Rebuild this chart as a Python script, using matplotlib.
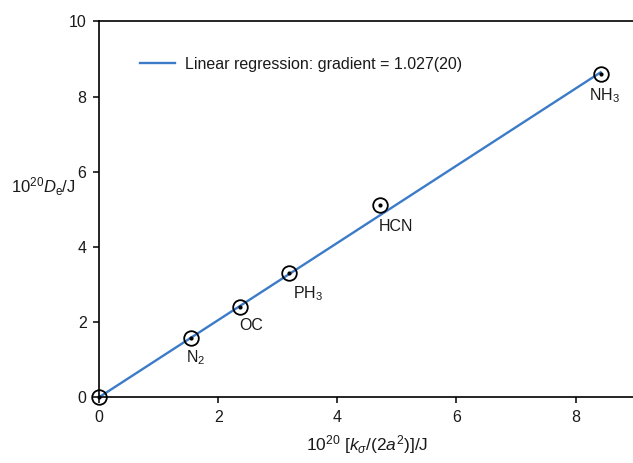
import matplotlib
matplotlib.use("Agg")
import matplotlib.pyplot as plt
import numpy as np

plt.rcParams['font.family'] = ['Liberation Sans', 'DejaVu Sans']
plt.rcParams['mathtext.fontset'] = 'custom'
plt.rcParams['mathtext.rm'] = 'Liberation Sans'
plt.rcParams['mathtext.it'] = 'Liberation Sans:italic'

# data
names = ['', 'N$_2$', 'OC', 'PH$_3$', 'HCN', 'NH$_3$']
x_vals = [0.0, 1.54, 2.37, 3.19, 4.71, 8.42]
y_vals = [0.0, 1.58, 2.41, 3.31, 5.12, 8.61]
gradient = 1.027
label_offsets = [(0, 0), (5, -20), (11, -19), (19, -21), (16, -22), (4, -22)]
x_ticks = [0, 2, 4, 6, 8]
y_ticks = [0, 2, 4, 6, 8, 10]

fig = plt.figure(figsize=(6.33, 4.63), dpi=100)
ax = fig.add_axes([0.1564, 0.1419, 0.847, 0.8117])

xl = np.array([0, max(x_vals)])
ax.plot(xl, gradient * xl, color='#3b7bc8', lw=1.7,
        label='Linear regression: gradient = 1.027(20)', zorder=2)
ax.plot(x_vals, y_vals, 'o', ms=10.5, mfc='none', mec='black', mew=1.3,
        zorder=3, clip_on=False)
ax.plot(x_vals, y_vals, 'o', ms=2, color='black', zorder=4, clip_on=False)

for n, x, y, off in zip(names, x_vals, y_vals, label_offsets):
    if n:
        ax.annotate(n, (x, y), xytext=off, textcoords='offset pixels',
                    ha='center', va='center', fontsize=11.5, color='#1a1a1a')

ax.set_xlim(0, 9)
ax.set_ylim(0, 10)
ax.set_xticks(x_ticks)
ax.set_yticks(y_ticks)
ax.tick_params(direction='out', length=4, width=1.1, labelsize=11.5, pad=5,
               labelcolor='#1a1a1a')
ax.spines['right'].set_visible(False)
for s in ['left', 'bottom', 'top']:
    ax.spines[s].set_linewidth(1.2)

ax.set_xlabel(r'10$^{20}$ [$\mathit{k}_{\sigma}$/(2$\mathit{a}^{2}$)]/J', fontsize=12.5,
              color='#1a1a1a')
ax.xaxis.set_label_coords(0.5, -0.095)
ax.set_ylabel(r'10$^{20}$$\mathit{D}_{\mathrm{e}}$/J', fontsize=12, rotation=0,
              color='#1a1a1a', ha='right', va='center')
ax.yaxis.set_label_coords(-0.043, 0.56)

leg = ax.legend(loc='upper left', bbox_to_anchor=(0.05, 0.945), frameon=False,
                fontsize=11.5, handlelength=2.2, handletextpad=0.6)
for t in leg.get_texts():
    t.set_color('#1a1a1a')

fig.savefig('out.png', dpi=100)
